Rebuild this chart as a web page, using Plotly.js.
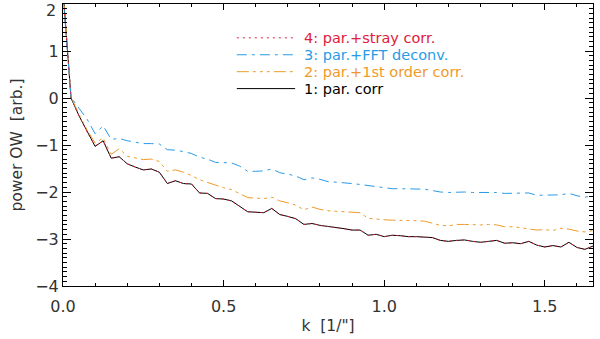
<!DOCTYPE html>
<html>
<head>
<meta charset="utf-8">
<script src="https://cdn.plot.ly/plotly-3.0.1.min.js"></script>
<style>html,body{margin:0;padding:0;background:#fff}#chart{width:600px;height:339px}</style>
</head>
<body>
<div id="chart"></div>
<script>
var k = [0, 0.025, 0.05, 0.075, 0.1, 0.125, 0.15, 0.175, 0.2, 0.225, 0.25, 0.275, 0.3, 0.325, 0.35, 0.375, 0.4, 0.425, 0.45, 0.475, 0.5, 0.525, 0.55, 0.575, 0.6, 0.625, 0.65, 0.675, 0.7, 0.725, 0.75, 0.775, 0.8, 0.825, 0.85, 0.875, 0.9, 0.925, 0.95, 0.975, 1.0, 1.025, 1.05, 1.075, 1.1, 1.125, 1.15, 1.175, 1.2, 1.225, 1.25, 1.275, 1.3, 1.325, 1.35, 1.375, 1.4, 1.425, 1.45, 1.475, 1.5, 1.525, 1.55, 1.575, 1.6, 1.625, 1.65];

var parCorr = [2.3, 0.0, -0.38, -0.72, -1.03, -0.91, -1.28, -1.25, -1.40, -1.47, -1.53, -1.51, -1.58, -1.82, -1.76, -1.82, -1.83, -2.02, -2.03, -2.14, -2.15, -2.19, -2.30, -2.42, -2.43, -2.44, -2.35, -2.48, -2.52, -2.57, -2.69, -2.67, -2.71, -2.73, -2.76, -2.78, -2.81, -2.81, -2.92, -2.90, -2.95, -2.92, -2.93, -2.95, -2.95, -2.96, -2.97, -3.03, -3.05, -3.03, -3.02, -3.05, -3.07, -3.05, -3.03, -3.09, -3.08, -3.10, -3.05, -3.13, -3.17, -3.14, -3.17, -3.07, -3.18, -3.22, -3.15];

var firstOrder = [2.3, 0.02, -0.35, -0.68, -0.96, -0.85, -1.20, -1.08, -1.24, -1.28, -1.31, -1.30, -1.35, -1.56, -1.53, -1.58, -1.65, -1.74, -1.80, -1.85, -1.91, -1.95, -2.03, -2.12, -2.13, -2.14, -2.11, -2.19, -2.23, -2.28, -2.38, -2.32, -2.37, -2.40, -2.41, -2.42, -2.44, -2.44, -2.56, -2.58, -2.59, -2.60, -2.60, -2.60, -2.61, -2.62, -2.66, -2.71, -2.72, -2.69, -2.69, -2.70, -2.70, -2.69, -2.70, -2.74, -2.74, -2.76, -2.78, -2.81, -2.80, -2.82, -2.77, -2.79, -2.83, -2.85, -2.82];

var fftDeconv = [2.2, 0.02, -0.22, -0.45, -0.76, -0.59, -0.88, -0.86, -0.91, -0.94, -0.97, -0.97, -0.98, -1.10, -1.11, -1.14, -1.18, -1.26, -1.30, -1.37, -1.38, -1.38, -1.45, -1.56, -1.56, -1.55, -1.51, -1.59, -1.62, -1.66, -1.74, -1.70, -1.73, -1.78, -1.79, -1.80, -1.82, -1.84, -1.86, -1.89, -1.91, -1.93, -1.93, -1.93, -1.93, -1.94, -1.97, -2.00, -2.01, -2.00, -2.00, -2.01, -2.01, -2.00, -2.01, -2.03, -2.03, -2.02, -2.02, -2.07, -2.07, -2.07, -2.06, -2.03, -2.08, -2.11, -2.08];

var strayCorr = [2.3, 0.0, -0.38, -0.72, -1.02, -0.91, -1.28, -1.25, -1.40, -1.47, -1.53, -1.51, -1.58, -1.81, -1.76, -1.82, -1.83, -2.02, -2.03, -2.14, -2.15, -2.19, -2.30, -2.42, -2.43, -2.44, -2.35, -2.48, -2.52, -2.57, -2.69, -2.67, -2.71, -2.73, -2.76, -2.78, -2.81, -2.81, -2.92, -2.90, -2.95, -2.92, -2.93, -2.95, -2.95, -2.96, -2.97, -3.03, -3.05, -3.03, -3.02, -3.05, -3.07, -3.05, -3.03, -3.09, -3.08, -3.10, -3.05, -3.13, -3.17, -3.14, -3.17, -3.07, -3.18, -3.22, -3.15];

var legendLabels = ["4: par.+stray corr.", "3: par.+FFT deconv.", "2: par.+1st order corr.", "1: par. corr"];
var xTickVals = [0, 0.5, 1.0, 1.5];
var xTickText = ["0.0", "0.5", "1.0", "1.5"];
var yTickVals = [-4, -3, -2, -1, 0, 1];
var yTickText = ["\u22124", "\u22123", "\u22122", "\u22121", "0", "1"];
var yTopLabel = "2";

var cRed = "#e0203a", cBlue = "#2a9be6", cOrange = "#f09a2a", cBlack = "#000000";
var dashRed = "2px,4px";
var dashBlue = "10px,5px,3px,5px";
var dashOrange = "12px,4px,3px,4px,3px,4px,3px,4px";

var traces = [
  {x: k, y: parCorr, mode: "lines", line: {color: cBlack, width: 1}},
  {x: k, y: firstOrder, mode: "lines", line: {color: cOrange, width: 1, dash: dashOrange}},
  {x: k, y: fftDeconv, mode: "lines", line: {color: cBlue, width: 1, dash: dashBlue}},
  {x: k, y: strayCorr, mode: "lines", line: {color: cRed, width: 1, dash: dashRed}}
];

var colors = [cRed, cBlue, cOrange, cBlack];
var dashes = [dashRed, dashBlue, dashOrange, "solid"];
var rowY = [0.880, 0.820, 0.760, 0.700];
var shapes = [], annotations = [];
for (var i = 0; i < 4; i++) {
  shapes.push({type: "line", xref: "paper", yref: "paper", x0: 0.328, x1: 0.438, y0: rowY[i], y1: rowY[i],
    line: {color: colors[i], width: 1, dash: dashes[i]}});
  annotations.push({xref: "paper", yref: "paper", x: 0.452, y: rowY[i], xanchor: "left", yanchor: "middle",
    text: legendLabels[i], showarrow: false, borderpad: 0,
    font: {family: "DejaVu Sans", size: 14.5, color: colors[i]}});
}
var tickFont = {family: "DejaVu Sans", size: 16, color: "#333"};
annotations.push({xref: "paper", yref: "y", x: 0, y: 2, xanchor: "right", yanchor: "middle", xshift: -5, yshift: -6,
  text: yTopLabel, showarrow: false, font: tickFont});

var titleFont = {family: "DejaVu Sans", size: 15.5, color: "#333"};
var layout = {
  width: 600, height: 339,
  margin: {l: 63, r: 7, t: 4, b: 53},
  paper_bgcolor: "#fff", plot_bgcolor: "#fff",
  showlegend: false,
  font: tickFont,
  xaxis: {
    range: [0, 1.65], tickvals: xTickVals, ticktext: xTickText,
    ticks: "inside", ticklen: 6, tickcolor: "#000", showline: true, linecolor: "#000", linewidth: 1,
    mirror: "ticks", showgrid: false, zeroline: false, tickfont: tickFont, ticklabelstandoff: 6,
    minor: {dtick: 0.1, tick0: 0, ticks: "inside", ticklen: 3, tickcolor: "#000", showgrid: false},
    title: {text: "k  [1/\"]", font: titleFont, standoff: 4}
  },
  yaxis: {
    range: [-4, 2], tickvals: yTickVals, ticktext: yTickText,
    ticks: "inside", ticklen: 8, tickcolor: "#000", showline: true, linecolor: "#000", linewidth: 1,
    mirror: "ticks", showgrid: false, zeroline: false, tickfont: tickFont,
    minor: {dtick: 0.1, tick0: 0, ticks: "inside", ticklen: 4, tickcolor: "#000", showgrid: false},
    title: {text: "power OW  [arb.]", font: titleFont, standoff: 8}
  },
  shapes: shapes,
  annotations: annotations
};

Plotly.newPlot("chart", traces, layout, {displayModeBar: false, staticPlot: true});
</script>
</body>
</html>
